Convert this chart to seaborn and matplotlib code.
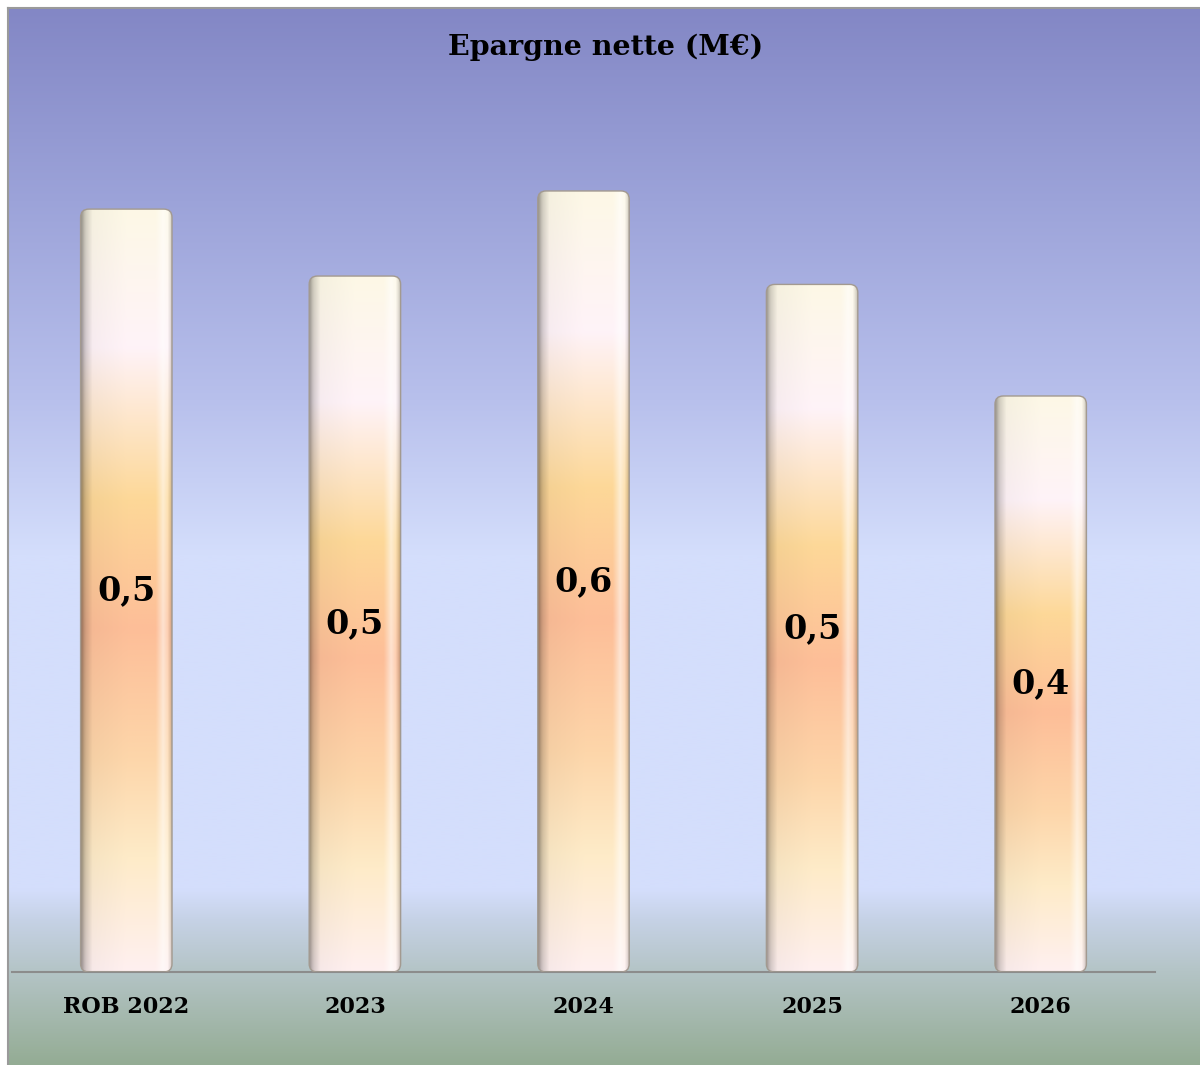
import numpy as np
import matplotlib
matplotlib.use("Agg")
from matplotlib import pyplot as plt
from matplotlib.colors import to_rgb
from matplotlib.patches import FancyBboxPatch
import seaborn as sns

# data
categories = ["ROB 2022", "2023", "2024", "2025", "2026"]
values = [0.547, 0.499, 0.560, 0.493, 0.413]
labels = ["0,5", "0,5", "0,6", "0,5", "0,4"]
title = "Epargne nette (M€)"

sns.set_style("white")
plt.rcParams["font.family"] = ["DejaVu Serif"]

W, H = 1200, 1065
fig = plt.figure(figsize=(W / 100, H / 100), dpi=100)
fig.patch.set_facecolor("white")


def gradient(stops, n):
    # stops: list of (pos 0..1, colour)
    pos = np.array([s[0] for s in stops])
    cols = np.array([to_rgb(s[1]) for s in stops])
    t = np.linspace(0, 1, n)
    return np.stack([np.interp(t, pos, cols[:, i]) for i in range(3)], axis=1)


# background panel
bg = fig.add_axes([8 / W, 0, 1 - 8 / W, 1 - 8 / H])
bg_px = [(8, "#8387c5"), (200, "#9ca3d9"), (400, "#b8c0ec"), (555, "#d4defc"),
         (890, "#d4defc"), (920, "#c6d2e6"), (972, "#b4c4c6"), (1065, "#94ac94")]
bg_stops = [((p - 8) / (1065 - 8), c) for p, c in bg_px]
col = gradient(bg_stops, 600)
bg.imshow(col[:, None, :], aspect="auto", extent=[0, 1, 0, 1], interpolation="bilinear")
bg.set_xlim(0, 1)
bg.set_ylim(0, 1)
bg.set_xticks([])
bg.set_yticks([])
for s in ["right", "bottom"]:
    bg.spines[s].set_visible(False)
for s in ["top", "left"]:
    bg.spines[s].set_color("#9a9a9a")
    bg.spines[s].set_linewidth(1.5)
bg.set_zorder(0)

# main chart
ax = fig.add_axes([12 / W, (H - 972) / H, 1143 / W, 892.6 / H])
ax.set_zorder(1)
ax.patch.set_alpha(0)
sns.barplot(x=categories, y=values, ax=ax, width=0.4, color="#fdd8a0")
ax.set_xlim(-0.5, 4.5)
ax.set_ylim(0, 0.64)

bar_stops = [(0.0, "#fdf8e6"), (0.18, "#fff3f8"), (0.38, "#fdd898"), (0.55, "#fdbe98"),
             (0.72, "#fdd6aa"), (0.85, "#feebc8"), (1.0, "#fff0f0")]
vcol = gradient(bar_stops, 300)
xs = np.linspace(0, 1, 60)
shade = np.interp(xs, [0, 0.04, 0.12, 0.5, 1.0], [0.62, 0.82, 0.97, 1.0, 1.0])
glow = np.interp(xs, [0, 0.82, 0.9, 0.96, 1.0], [0, 0, 0.55, 0.2, 0])
edge_r = np.interp(xs, [0, 0.95, 1.0], [1.0, 1.0, 0.8])
img = vcol[:, None, :] * (shade * edge_r)[None, :, None]
img = img + (1 - img) * glow[None, :, None]
img = np.clip(img, 0, 1)

aspect = (1143 / 5) / (892.6 / 0.64)
for p in ax.patches:
    x0, w, h = p.get_x(), p.get_width(), p.get_height()
    p.set_visible(False)
    box = FancyBboxPatch((x0, 0), w, h, boxstyle="round,pad=0,rounding_size=0.036",
                         mutation_aspect=aspect, facecolor="none",
                         edgecolor="#a39a90", linewidth=1.0, zorder=3)
    ax.add_patch(box)
    im = ax.imshow(img, extent=[x0, x0 + w, 0, h], aspect="auto",
                   interpolation="bilinear", zorder=2)
    im.set_clip_path(box)

for c in ax.containers:
    txts = ax.bar_label(c, labels=labels, label_type="center", fontsize=24,
                        fontweight="bold", color="black", zorder=5)

ax.set_yticks([])
ax.set_ylabel("")
ax.set_xlabel("")
ax.tick_params(axis="x", length=0, pad=17, labelsize=16, labelcolor="black")
for t in ax.get_xticklabels():
    t.set_fontweight("bold")
for s in ["top", "right", "left"]:
    ax.spines[s].set_visible(False)
ax.spines["bottom"].set_color("#8c8c8c")
ax.spines["bottom"].set_linewidth(1.5)

fig.text(606 / W, 1 - 47 / H, title, ha="center", va="center",
         fontsize=20.5, fontweight="bold", color="black")

fig.savefig("out.png", dpi=100)
